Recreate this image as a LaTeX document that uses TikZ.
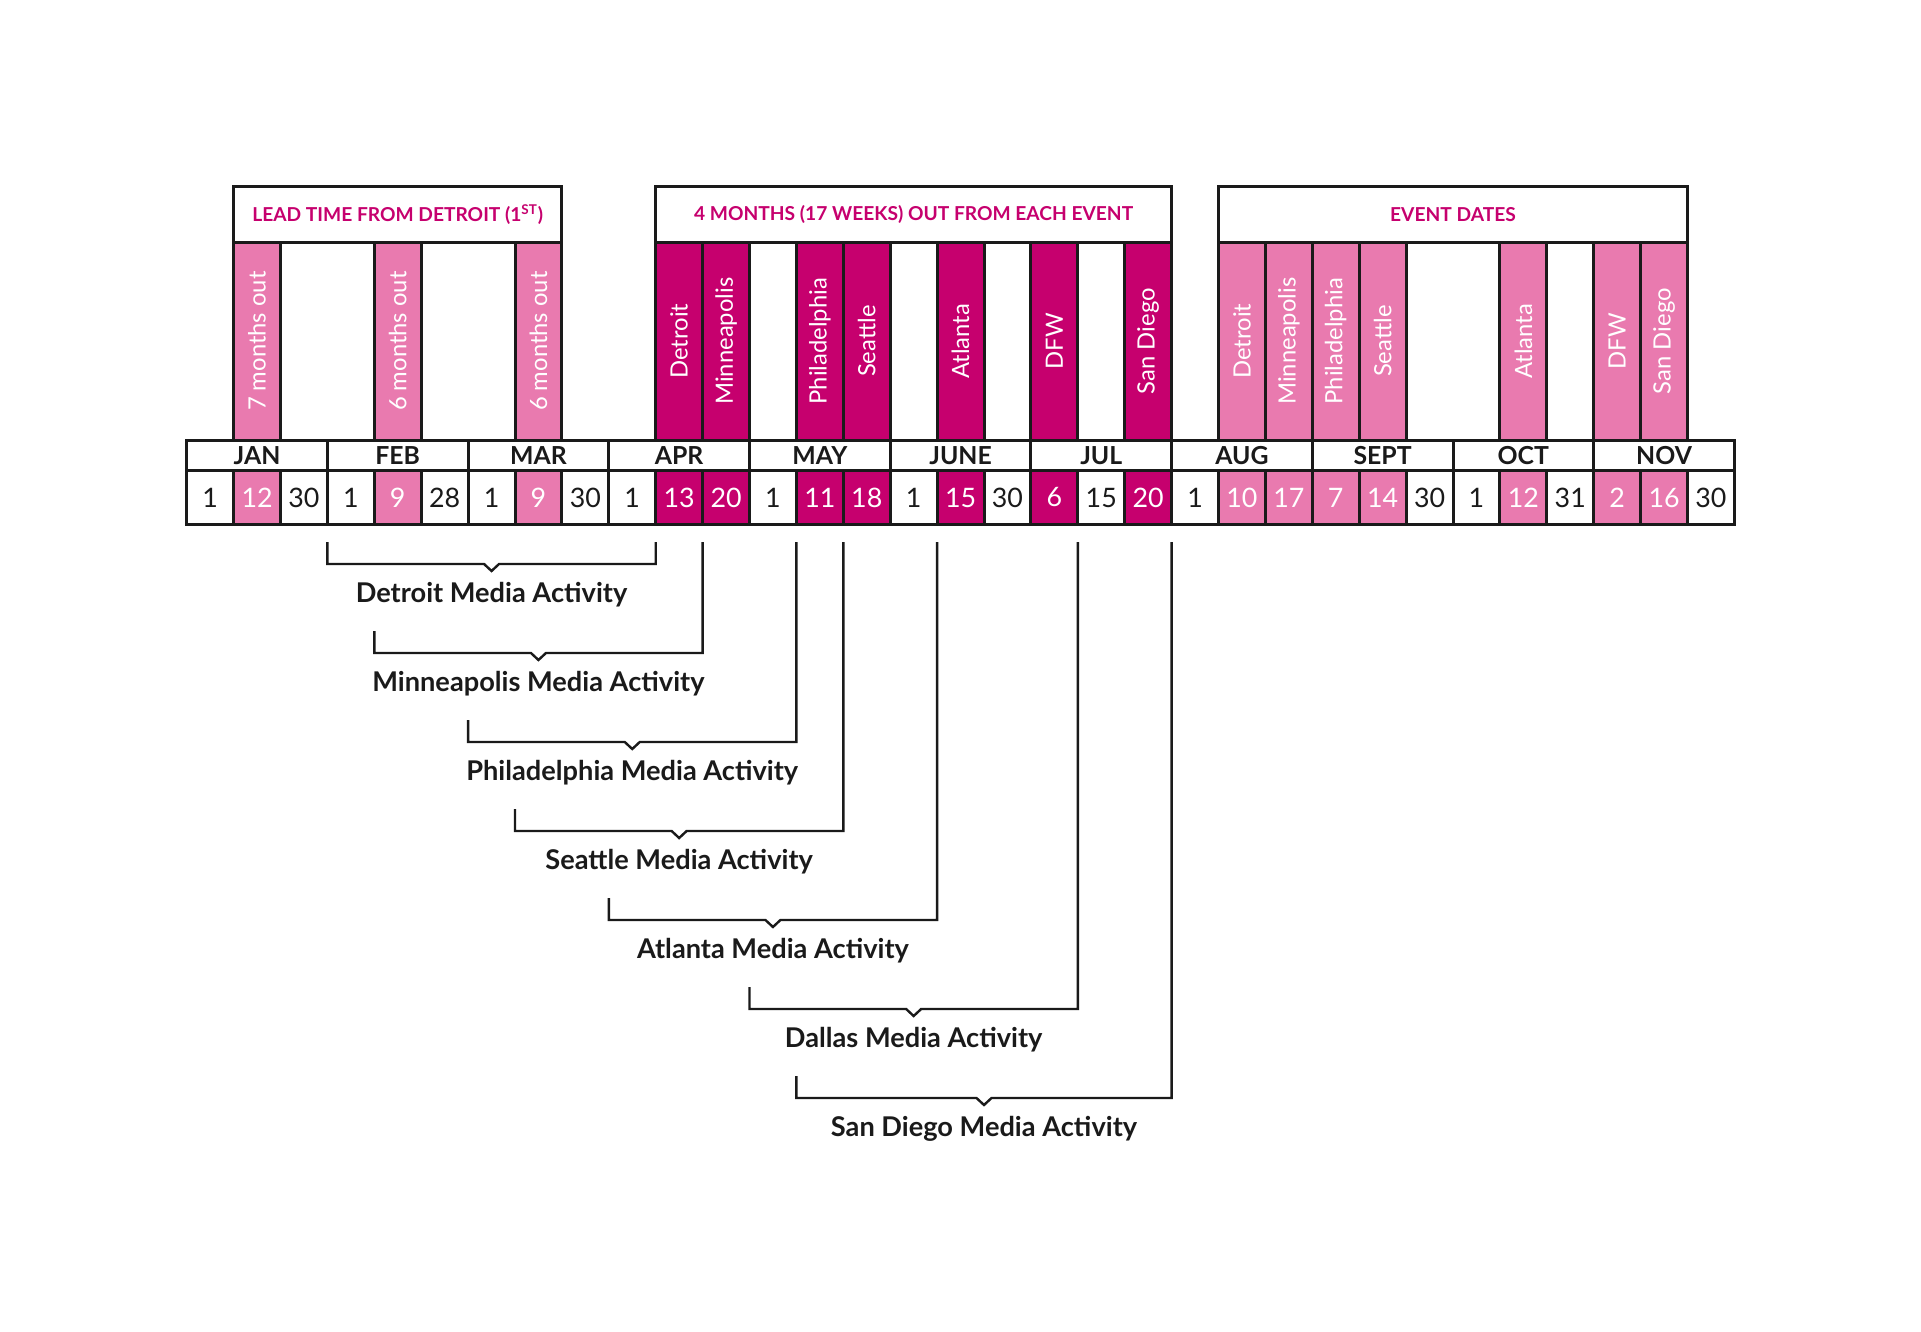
\documentclass[tikz,border=0pt]{standalone}
\usepackage{fontspec}
\setmainfont{Lato}
\usetikzlibrary{positioning, calc}
\definecolor{eventmag}{HTML}{C6006E}
\definecolor{eventpink}{HTML}{E97AAF}
\definecolor{gridblack}{HTML}{1A1A1A}

\begin{document}
\begin{tikzpicture}[x=0.5pt, y=0.5pt,
  datecell/.style={draw=gridblack, line width=1.5pt, outer sep=0pt, minimum width=23.45pt, minimum height=26.8pt, inner sep=0pt, font=\fontsize{13.4}{13}\selectfont},
  dw/.style={datecell, fill=white, text=gridblack},
  dl/.style={datecell, fill=eventpink, text=white},
  dm/.style={datecell, fill=eventmag, text=white},
  monthcell/.style={draw=gridblack, line width=1.5pt, outer sep=0pt, minimum width=70.35pt, minimum height=15.35pt, inner sep=0pt, text=gridblack, font=\bfseries\fontsize{12.4}{12}\selectfont},
  barbox/.style={draw=gridblack, line width=1.5pt, outer sep=0pt, rotate=90, minimum width=98.85pt, minimum height=23.45pt, inner sep=0pt, text=white, font=\fontsize{11.9}{12}\selectfont},
  lightbar/.style={barbox, fill=eventpink},
  darkbar/.style={barbox, fill=eventmag},
  headbox/.style={draw=gridblack, line width=1.5pt, outer sep=0pt, fill=white, minimum height=27.8pt, inner sep=0pt, text=eventmag, font=\bfseries\fontsize{9.6}{10}\selectfont},
  frame/.style={draw=gridblack, line width=1.5pt},
  bracket/.style={draw=gridblack, line width=1.2pt},
  actlabel/.style={font=\bfseries\fontsize{13.6}{14}\selectfont, text=gridblack}
]
  \useasboundingbox (0,0) rectangle (1921,-1332);

  % headers
  \node[headbox, minimum width=164.15pt] (leadhead) at (397.75,-214.5) {LEAD TIME FROM DETROIT (1\textsuperscript{ST})};
  \node[headbox, minimum width=257.95pt] (outhead) at (913.65,-214.5) {4 MONTHS (17 WEEKS) OUT FROM EACH EVENT};
  \node[headbox, minimum width=234.5pt] (eventhead) at (1453,-214.5) {EVENT DATES};

  % months
  \foreach \m/\name in {0/JAN, 1/FEB, 2/MAR, 3/APR, 4/MAY, 5/JUNE, 6/JUL, 7/AUG, 8/SEPT, 9/OCT, 10/NOV}
    \node[monthcell] (mon\m) at ({186.7+46.9*(3*\m+1.5)},-455.35) {\name};

  % frames round the bars
  \draw[frame] (leadhead.south west) rectangle (leadhead.east |- mon0.north);
  \draw[frame] (outhead.south west) rectangle (outhead.east |- mon0.north);
  \draw[frame] (eventhead.south west) rectangle (eventhead.east |- mon0.north);

  % bars
  \foreach \i/\txt/\s in {1/7 months out/lightbar, 4/6 months out/lightbar, 7/6 months out/lightbar,
      10/Detroit/darkbar, 11/Minneapolis/darkbar, 13/Philadelphia/darkbar, 14/Seattle/darkbar,
      16/Atlanta/darkbar, 18/DFW/darkbar, 20/San Diego/darkbar,
      22/Detroit/lightbar, 23/Minneapolis/lightbar, 24/Philadelphia/lightbar, 25/Seattle/lightbar,
      28/Atlanta/lightbar, 30/DFW/lightbar, 31/San Diego/lightbar}
    \node[\s] (bar\i) at ({186.7+46.9*(\i+0.5)},-341.15) {\txt};

  % dates
  \foreach \i/\d/\s in {0/1/dw, 1/12/dl, 2/30/dw, 3/1/dw, 4/9/dl, 5/28/dw, 6/1/dw, 7/9/dl, 8/30/dw,
      9/1/dw, 10/13/dm, 11/20/dm, 12/1/dw, 13/11/dm, 14/18/dm, 15/1/dw, 16/15/dm, 17/30/dw,
      18/6/dm, 19/15/dw, 20/20/dm, 21/1/dw, 22/10/dl, 23/17/dl, 24/7/dl, 25/14/dl, 26/30/dw,
      27/1/dw, 28/12/dl, 29/31/dw, 30/2/dl, 31/16/dl, 32/30/dw}
    \node[\s] (d\i) at ({186.7+46.9*(\i+0.5)},-497.5) {\d};

  % media activity brackets
  \foreach \l/\r/\k/\city in {3/10/0/Detroit, 4/11/1/Minneapolis, 6/13/2/Philadelphia, 7/14/3/Seattle,
      9/16/4/Atlanta, 12/19/5/Dallas, 13/21/6/San Diego} {
    \coordinate (lt\k) at ($(d\l.south west)+(0,{-17.7-89*\k})$);
    \coordinate (lh\k) at ($(lt\k)+(0,-22)$);
    \coordinate (rt\k) at ($(d\r.south west)+(0,-17.7)$);
    \coordinate (rh\k) at (rt\k |- lh\k);
    \coordinate (mid\k) at ($(lh\k)!0.5!(rh\k)$);
    \draw[bracket] (lt\k) -- (lh\k) -- ($(mid\k)+(-7.5,0)$) -- ($(mid\k)+(0,-7)$) -- ($(mid\k)+(7.5,0)$) -- (rh\k) -- (rt\k);
    \node[actlabel] (act\k) at ($(mid\k)+(0,-31)$) {\city\ Media Activity};
  }
\end{tikzpicture}
\end{document}
